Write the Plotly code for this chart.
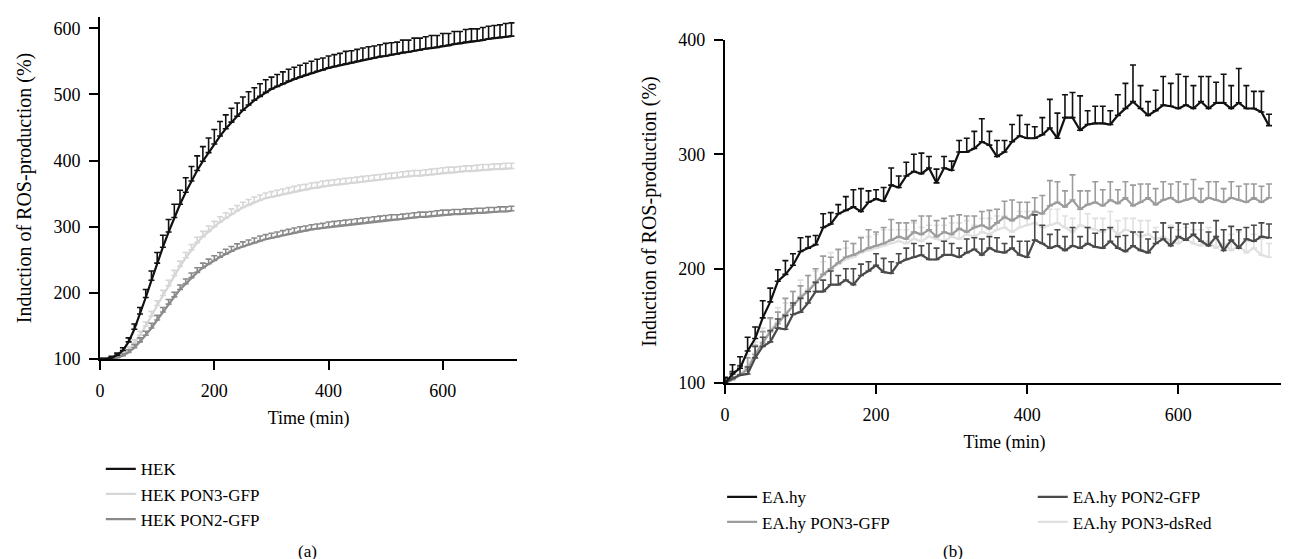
import plotly.graph_objects as go

# time points (min)
time_min = list(range(0, 730, 10))

# panel (a) HEK cells
hek = [100, 100, 102, 106, 113, 126, 145, 168, 193, 219,
       245, 269, 292, 314, 334, 352, 369, 385, 399, 412,
       425, 437, 448, 458, 467, 476, 484, 491, 497, 503,
       508, 512, 516, 520, 523, 526, 529, 532, 535, 537,
       540, 542, 544, 546, 548, 550, 552, 553, 555, 557,
       558, 560, 561, 563, 564, 566, 567, 569, 570, 571,
       573, 574, 576, 577, 579, 580, 581, 582, 584, 585,
       586, 587, 588]
hek_err = [1, 1, 2, 3, 4, 6, 8, 10, 12, 14,
           16, 18, 19, 20, 21, 22, 22, 22, 22, 22,
           22, 22, 21, 21, 20, 20, 20, 19, 19, 19,
           18, 18, 18, 18, 18, 18, 18, 18, 18, 18,
           18, 18, 18, 19, 18, 18, 18, 19, 18, 18,
           19, 18, 18, 19, 18, 19, 18, 18, 19, 18,
           19, 18, 19, 18, 19, 19, 18, 19, 19, 19,
           19, 20, 20]
hek_pon3 = [100, 100, 101, 103, 107, 114, 124, 136, 150, 165,
            181, 196, 211, 226, 240, 253, 265, 276, 285, 293,
            300, 307, 313, 319, 324, 329, 333, 337, 340, 343,
            345, 347, 349, 351, 353, 355, 356, 358, 359, 361,
            362, 363, 364, 365, 366, 367, 368, 369, 370, 371,
            372, 373, 374, 375, 376, 377, 377, 378, 379, 380,
            381, 382, 382, 383, 384, 384, 385, 386, 386, 387,
            387, 388, 388]
hek_pon3_err = [1, 1, 2, 2, 3, 4, 5, 6, 6, 7,
                7, 8, 8, 8, 8, 8, 8, 8, 8, 8,
                8, 8, 8, 8, 8, 8, 8, 8, 8, 8,
                8, 8, 8, 8, 8, 8, 8, 8, 8, 8,
                8, 8, 8, 8, 8, 8, 8, 8, 8, 8,
                8, 8, 8, 8, 8, 8, 8, 8, 8, 8,
                8, 8, 8, 8, 8, 8, 8, 8, 8, 8,
                8, 8, 8]
hek_pon2 = [100, 100, 100, 102, 105, 110, 117, 126, 136, 147,
            159, 171, 183, 194, 205, 214, 223, 231, 238, 244,
            249, 254, 259, 263, 267, 270, 273, 276, 279, 281,
            283, 285, 287, 289, 291, 293, 294, 296, 297, 298,
            300, 301, 302, 303, 304, 305, 306, 307, 308, 309,
            310, 311, 311, 312, 313, 314, 315, 315, 316, 317,
            318, 318, 319, 319, 320, 320, 321, 321, 322, 322,
            323, 323, 324]
hek_pon2_err = [1, 1, 1, 2, 3, 4, 5, 6, 6, 7,
                7, 7, 7, 7, 7, 7, 7, 7, 7, 7,
                7, 7, 7, 7, 7, 7, 7, 7, 7, 7,
                7, 7, 7, 7, 7, 7, 7, 7, 7, 7,
                7, 7, 7, 7, 7, 7, 7, 7, 7, 7,
                7, 7, 7, 7, 7, 7, 7, 7, 7, 7,
                7, 7, 7, 7, 7, 7, 7, 7, 7, 7,
                7, 7, 7]

# panel (b) EA.hy cells
eahy = [100, 108, 113, 128, 139, 157, 171, 189, 195, 203,
        215, 218, 221, 236, 239, 248, 251, 254, 250, 258,
        261, 259, 273, 271, 281, 285, 283, 288, 275, 288,
        286, 302, 302, 305, 311, 308, 298, 302, 311, 316,
        314, 314, 317, 323, 314, 332, 332, 321, 326, 327,
        327, 326, 334, 340, 346, 340, 334, 338, 343, 342,
        340, 343, 340, 346, 340, 345, 345, 340, 345, 340,
        340, 337, 325]
eahy_err = [5, 8, 10, 12, 10, 15, 12, 10, 12, 10,
            12, 10, 8, 12, 10, 8, 12, 15, 20, 10,
            8, 12, 15, 10, 12, 15, 18, 10, 12, 10,
            8, 10, 12, 15, 20, 12, 14, 10, 15, 18,
            12, 10, 15, 25, 22, 20, 22, 30, 12, 15,
            15, 12, 18, 22, 32, 20, 12, 18, 25, 20,
            30, 25, 20, 22, 28, 18, 25, 20, 30, 20,
            15, 18, 10]
eahy_pon2 = [100, 104, 107, 108, 122, 132, 136, 148, 147, 160,
             162, 170, 180, 180, 186, 186, 190, 186, 194, 198,
             203, 197, 196, 205, 208, 210, 212, 208, 208, 212,
             212, 210, 214, 217, 212, 218, 215, 214, 218, 212,
             210, 225, 222, 218, 220, 216, 220, 218, 222, 219,
             218, 224, 218, 215, 220, 216, 214, 222, 226, 220,
             228, 225, 230, 224, 220, 228, 216, 225, 218, 226,
             224, 228, 227]
eahy_pon2_err = [4, 6, 8, 6, 10, 8, 10, 8, 12, 10,
                 12, 10, 8, 10, 12, 8, 10, 14, 10, 8,
                 10, 12, 10, 8, 10, 12, 8, 14, 10, 12,
                 10, 8, 12, 10, 14, 10, 12, 8, 10, 12,
                 14, 22, 16, 12, 14, 12, 16, 10, 14, 12,
                 16, 12, 10, 14, 12, 16, 12, 10, 14, 16,
                 12, 14, 10, 16, 12, 14, 18, 12, 16, 10,
                 14, 12, 12]
eahy_pon3 = [100, 103, 107, 112, 125, 135, 145, 152, 160, 168,
             175, 180, 188, 195, 200, 205, 210, 212, 215, 218,
             220, 222, 225, 228, 226, 232, 230, 234, 228, 232,
             230, 235, 232, 236, 238, 235, 240, 245, 242, 246,
             244, 250, 248, 255, 258, 254, 260, 252, 256, 258,
             255, 260, 257, 262, 255, 258, 262, 256, 260, 262,
             258, 260, 262, 258, 262, 260, 258, 262, 260, 258,
             262, 258, 262]
eahy_pon3_err = [4, 6, 8, 10, 8, 10, 12, 10, 14, 12,
                 10, 14, 12, 16, 10, 12, 14, 10, 12, 16,
                 12, 14, 18, 12, 14, 10, 16, 12, 14, 12,
                 16, 12, 14, 10, 12, 16, 12, 14, 18, 12,
                 14, 12, 16, 22, 18, 14, 22, 16, 12, 18,
                 14, 16, 12, 14, 18, 16, 12, 14, 16, 12,
                 18, 14, 16, 12, 14, 16, 12, 14, 12, 16,
                 12, 14, 12]
eahy_dsred = [100, 104, 108, 115, 126, 136, 146, 154, 160, 168,
              176, 182, 188, 194, 200, 204, 208, 210, 214, 216,
              218, 220, 222, 224, 222, 226, 224, 228, 226, 224,
              228, 226, 230, 228, 232, 230, 234, 236, 232, 236,
              238, 240, 236, 238, 240, 236, 232, 238, 236, 234,
              232, 236, 230, 234, 232, 228, 230, 226, 228, 224,
              222, 226, 222, 220, 224, 218, 222, 216, 220, 214,
              218, 212, 210]
eahy_dsred_err = [4, 6, 8, 10, 10, 12, 10, 12, 10, 12,
                  14, 12, 10, 12, 14, 12, 10, 12, 14, 12,
                  12, 14, 12, 10, 12, 14, 12, 10, 12, 14,
                  12, 14, 12, 10, 12, 14, 12, 10, 12, 14,
                  12, 10, 12, 14, 12, 10, 12, 14, 12, 10,
                  12, 14, 12, 10, 12, 14, 12, 10, 12, 14,
                  12, 10, 12, 14, 12, 10, 12, 14, 12, 10,
                  12, 14, 12]

FONT = 'Liberation Serif'
zeros = [0] * len(time_min)


def series(y, err, name, color, xa, ya, legend, rank, width=2.2):
    return go.Scatter(
        x=time_min, y=y, name=name, mode='lines',
        line=dict(color=color, width=width),
        error_y=dict(type='data', symmetric=False, array=err, arrayminus=zeros,
                     color=color, thickness=1.6, width=3),
        xaxis=xa, yaxis=ya, legend=legend, legendrank=rank,
    )


fig = go.Figure()
# panel (a)
fig.add_trace(series(hek_pon3, hek_pon3_err, 'HEK PON3-GFP', '#d6d6d6', 'x', 'y', 'legend', 2))
fig.add_trace(series(hek_pon2, hek_pon2_err, 'HEK PON2-GFP', '#8a8a8a', 'x', 'y', 'legend', 3))
fig.add_trace(series(hek, hek_err, 'HEK', '#111111', 'x', 'y', 'legend', 1))
# panel (b)
fig.add_trace(series(eahy_dsred, eahy_dsred_err, 'EA.hy PON3-dsRed', '#e0e0e0', 'x2', 'y2', 'legend3', 2))
fig.add_trace(series(eahy_pon3, eahy_pon3_err, 'EA.hy PON3-GFP', '#9c9c9c', 'x2', 'y2', 'legend2', 2))
fig.add_trace(series(eahy_pon2, eahy_pon2_err, 'EA.hy PON2-GFP', '#4a4a4a', 'x2', 'y2', 'legend3', 1))
fig.add_trace(series(eahy, eahy_err, 'EA.hy', '#111111', 'x2', 'y2', 'legend2', 1))

axis = dict(showline=True, linecolor='black', linewidth=2, ticks='outside', ticklen=9,
            tickwidth=2, tickcolor='black', showgrid=False, zeroline=False, automargin=False,
            ticklabelstandoff=5, tickfont=dict(size=18, color='black'))
ytitle = dict(text='Induction of ROS-production (%)', font=dict(size=20), standoff=16)
xtitle = dict(text='Time (min)', font=dict(size=18), standoff=12)
leg = dict(font=dict(size=17, color='black'), bgcolor='rgba(0,0,0,0)',
           xanchor='left', yanchor='top', tracegroupgap=0)

fig.update_layout(
    width=1289, height=559,
    margin=dict(l=0, r=0, t=0, b=0),
    paper_bgcolor='white', plot_bgcolor='white',
    font=dict(family=FONT, color='black'),
    xaxis=dict(axis, domain=[0.0714, 0.395], range=[0, 730], tickvals=[0, 200, 400, 600],
               title=xtitle, anchor='y'),
    yaxis=dict(axis, domain=[0.372, 0.984], range=[100, 617], tickvals=[100, 200, 300, 400, 500, 600],
               title=ytitle, anchor='x'),
    xaxis2=dict(axis, domain=[0.5562, 0.99], range=[0, 740], tickvals=[0, 200, 400, 600],
                title=xtitle, anchor='y2'),
    yaxis2=dict(axis, domain=[0.329, 0.943], range=[100, 400], tickvals=[100, 200, 300, 400],
                title=ytitle, anchor='x2'),
    legend=dict(leg, x=0.072, y=0.207),
    legend2=dict(leg, x=0.554, y=0.157),
    legend3=dict(leg, x=0.795, y=0.157),
    showlegend=True,
    annotations=[
        dict(text='(a)', x=0.232, y=0.028, xref='paper', yref='paper', showarrow=False,
             font=dict(size=17), xanchor='center', yanchor='middle'),
        dict(text='(b)', x=0.733, y=0.028, xref='paper', yref='paper', showarrow=False,
             font=dict(size=17), xanchor='center', yanchor='middle'),
    ],
)

fig.write_html('out.html')
